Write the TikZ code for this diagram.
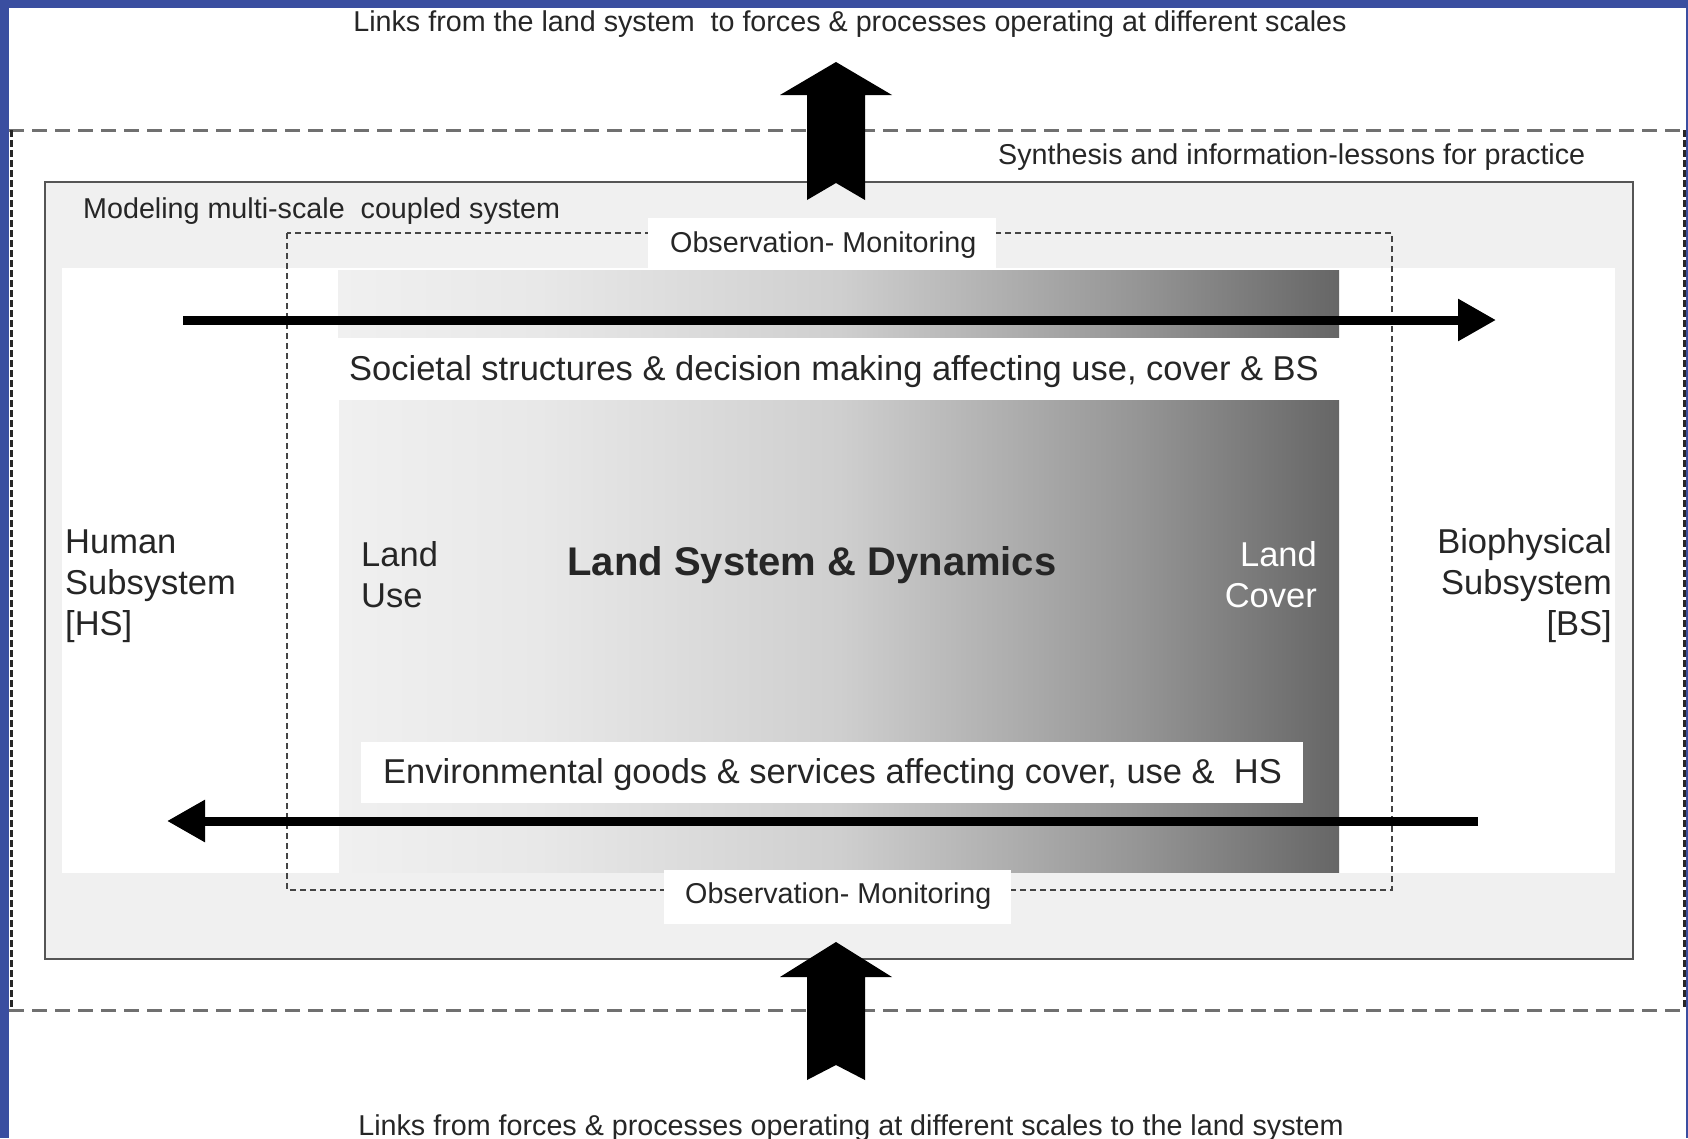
\documentclass[tikz,border=0pt]{standalone}
\usepackage{fontspec}
\setmainfont{Liberation Sans}
\usetikzlibrary{arrows.meta}

% colours
\definecolor{edgeblue}{RGB}{58,78,160}
\definecolor{framegray}{HTML}{F0F0F0}
\definecolor{inkgray}{HTML}{262626}
\definecolor{linegray}{HTML}{555555}
\definecolor{dotgray}{HTML}{444444}
\definecolor{dashgray}{HTML}{707070}
\definecolor{ga}{HTML}{F0F0F0}
\definecolor{gb}{HTML}{E8E8E8}
\definecolor{gc}{HTML}{CFCFCF}
\definecolor{gd}{HTML}{959595}
\definecolor{ge}{HTML}{666666}

% light-to-dark band used for the land system boxes
\pgfdeclarehorizontalshading{landgrad}{100bp}{color(0bp)=(ga); color(25bp)=(ga); color(35bp)=(gb); color(50bp)=(gc); color(65bp)=(gd); color(75bp)=(ge); color(100bp)=(ge)}

\newcommand\fsSmall{\fontsize{28.7}{34}\selectfont}
\newcommand\fsMid{\fontsize{34.5}{41}\selectfont}
\newcommand\fsTitle{\fontsize{40}{48}\selectfont\bfseries}

\begin{document}
\begin{tikzpicture}[x=1pt,y=-1pt,
  txt/.style={inner sep=0pt,text=inkgray},
  smalltxt/.style={txt,font=\fsSmall},
  midtxt/.style={txt,font=\fsMid},
  whitebox/.style={fill=white,draw=none},
  flowarrow/.style={line width=9pt,draw=black,-{Triangle[length=38pt,width=40pt]}},
  blockarrow/.style={fill=black,draw=none}
]
\useasboundingbox (0,0) rectangle (1688,1138);

% page edge
\fill[edgeblue] (0,0) rectangle (1688,1138);
\fill[white] (9,8) rectangle (1686,1138);

% outer synthesis frame (dashed)
\coordinate (oNW) at (11,130);
\coordinate (oNE) at (1684,130);
\coordinate (oSW) at (11,1010);
\coordinate (oSE) at (1684,1010);
\draw[dashgray,line width=3pt,dash pattern=on 15pt off 8pt] (9,130) -- (1686,130);
\draw[dashgray,line width=3pt,dash pattern=on 15pt off 8pt] (9,1010) -- (1686,1010);
\draw[inkgray,line width=3pt,dash pattern=on 7pt off 3pt] (oNW) -- (oSW);
\draw[inkgray,line width=3pt,dash pattern=on 7pt off 3pt] (oNE) -- (oSE);

% modelling frame
\draw[linegray,fill=framegray,line width=2.5pt] (45,182) rectangle (1633,959);
% subsystem band
\fill[white] (62,268) rectangle (1615,873);

% land system bands
\shade[shading=landgrad] (338,270) rectangle (1339,337);
\shade[shading=landgrad] (339,400) rectangle (1339,872);

% observation window (dotted)
\draw[dotgray,line width=2.5pt,dash pattern=on 6pt off 4pt] (287,233) rectangle (1392,890);

% labels
\node[smalltxt,anchor=base] (linkTop) at (850,31) {Links from the land system\ \ to forces \& processes operating at different scales};
\node[smalltxt,anchor=base west] (synth) at (998,164) {Synthesis and information-lessons for practice};
\node[smalltxt,anchor=base west] (model) at (83,218) {Modeling multi-scale\ \ coupled system};

\fill[whitebox] (648,218) rectangle (996,269);
\node[smalltxt,anchor=base west] (obsTop) at (670,252) {Observation- Monitoring};
\fill[whitebox] (664,870) rectangle (1011,924);
\node[smalltxt,anchor=base west] (obsBot) at (685,903) {Observation- Monitoring};

\node[midtxt,anchor=base west] (soc) at (349,380) {Societal structures \& decision making affecting use, cover \& BS};

\fill[whitebox] (361,742) rectangle (1303,803);
\node[midtxt,anchor=base west] (env) at (383,783) {Environmental goods \& services affecting cover, use \&\ \ HS};

\node[txt,font=\fsTitle,anchor=base] (lsd) at (812,575) {Land System \& Dynamics};

% multi-line labels: the base anchor sits on the last line
\node[midtxt,anchor=base west,align=left] (luse) at (361,607) {Land\\Use};
\node[midtxt,anchor=base east,align=right,text=white] (lcov) at (1317,607) {Land\\Cover};

\node[midtxt,anchor=base west,align=left] (hs) at (65,635) {Human\\Subsystem\\{[HS]}};
\node[midtxt,anchor=base east,align=right] (bs) at (1612,635) {Biophysical\\Subsystem\\{[BS]}};

\node[smalltxt,anchor=base] (linkBot) at (851,1135) {Links from forces \& processes operating at different scales to the land system};

% flows between the subsystems
\coordinate (hsOut) at (183,320);
\coordinate (bsIn) at (1496,320);
\coordinate (bsOut) at (1478,821);
\coordinate (hsIn) at (167,821);
\draw[flowarrow] (hsOut) -- (bsIn);
\draw[flowarrow] (bsOut) -- (hsIn);

% links across scales
\fill[blockarrow] (836,62) -- (892,95) -- (865,95) -- (865,200) -- (836,183) -- (807,200) -- (807,95) -- (780,95) -- cycle;
\fill[blockarrow] (836,942) -- (892,977) -- (865,977) -- (865,1080) -- (836,1065) -- (807,1080) -- (807,977) -- (780,977) -- cycle;
\end{tikzpicture}
\end{document}
